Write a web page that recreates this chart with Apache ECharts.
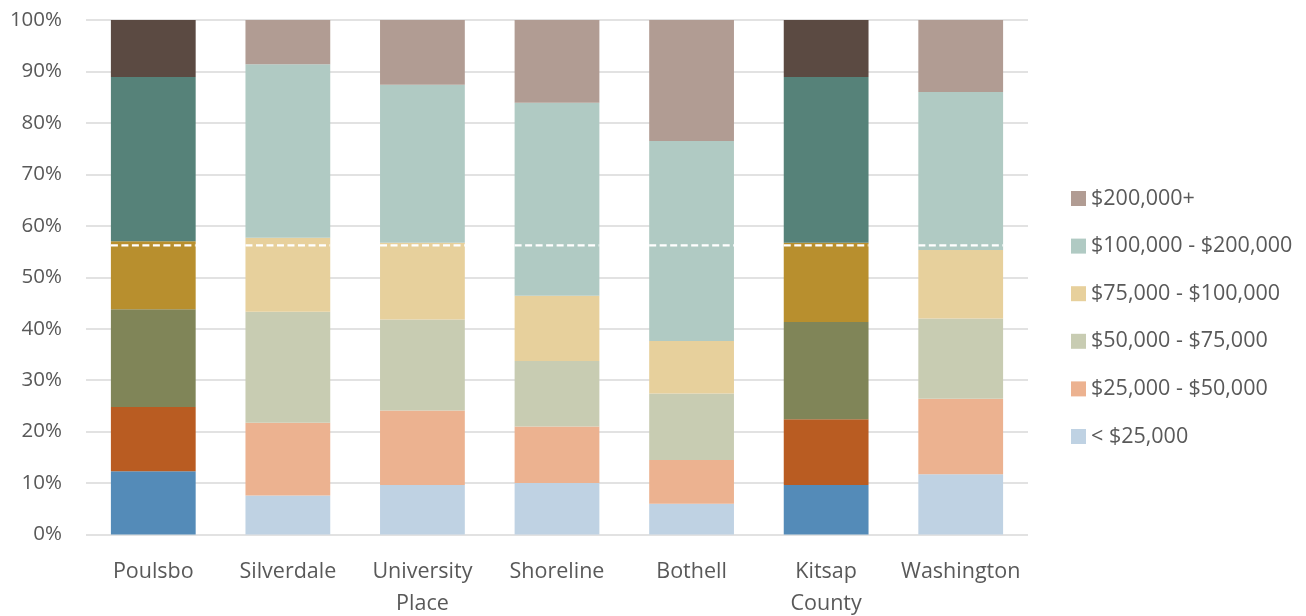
<!DOCTYPE html>
<html>
<head>
<meta charset="utf-8">
<script src="https://cdn.jsdelivr.net/npm/echarts@6/dist/echarts.min.js"></script>
<style>
  html, body { margin: 0; padding: 0; background: #ffffff; }
  #chart { width: 1306px; height: 616px; }
</style>
</head>
<body>
<div id="chart"></div>
<script>
// Household income distribution by place (share of households, %)
const categories = ['Poulsbo', 'Silverdale', 'University\nPlace', 'Shoreline', 'Bothell', 'Kitsap\nCounty', 'Washington'];

const seriesNames = ['< $25,000', '$25,000 - $50,000', '$50,000 - $75,000', '$75,000 - $100,000', '$100,000 - $200,000', '$200,000+'];

const under25k      = [12.3,  7.6,  9.6, 10.0,  6.0,  9.6, 11.7];
const from25to50k   = [12.5, 14.1, 14.5, 11.0,  8.5, 12.8, 14.7];
const from50to75k   = [19.0, 21.6, 17.7, 12.7, 12.9, 18.9, 15.6];
const from75to100k  = [13.2, 14.4, 14.9, 12.7, 10.2, 15.4, 13.3];
const from100to200k = [31.9, 33.7, 30.7, 37.5, 38.9, 32.2, 30.7];
const over200k      = [11.1,  8.6, 12.6, 16.1, 23.5, 11.1, 14.0];

// Reference level drawn as a dashed white line across each bar
const referenceLevel = [56.2, 56.2, 56.2, 56.2, 56.2, 56.2, 56.2];

const yTicks = [0, 10, 20, 30, 40, 50, 60, 70, 80, 90, 100];

// Bars shown in the deeper palette
const highlighted = ['Poulsbo', 'Kitsap\nCounty'];

const lightColors = ['#BFD2E3', '#ECB290', '#C8CCB2', '#E7D09C', '#B0CAC3', '#B19C93'];
const darkColors  = ['#548BB8', '#B95C22', '#808558', '#B88F2E', '#568279', '#5B4A42'];

const seriesValues = [under25k, from25to50k, from50to75k, from75to100k, from100to200k, over200k];

const BAR_RATIO = 0.63;
const FONT = '"Open Sans", "Noto Sans", sans-serif';
const TEXT_COLOR = '#595959';

const barSeries = seriesNames.map((name, s) => ({
  name: name,
  type: 'bar',
  stack: 'total',
  barWidth: (BAR_RATIO * 100) + '%',
  itemStyle: { color: lightColors[s] },
  emphasis: { disabled: true },
  data: seriesValues[s].map((v, i) => ({
    value: v,
    itemStyle: { color: highlighted.includes(categories[i]) ? darkColors[s] : lightColors[s] }
  }))
}));

const refSeries = {
  name: 'reference',
  type: 'custom',
  z: 10,
  silent: true,
  encode: { x: 0, y: 1 },
  data: referenceLevel.map((v, i) => [i, v]),
  renderItem: function (params, api) {
    const p = api.coord([api.value(0), api.value(1)]);
    const half = api.size([1, 0])[0] * BAR_RATIO / 2;
    return {
      type: 'line',
      shape: { x1: p[0] - half, y1: p[1], x2: p[0] + half, y2: p[1] },
      style: { stroke: '#ffffff', lineWidth: 2.3, lineDash: [7, 3.5] }
    };
  }
};

const chart = echarts.init(document.getElementById('chart'), null, { renderer: 'canvas' });
chart.setOption({
  animation: false,
  backgroundColor: '#ffffff',
  textStyle: { fontFamily: FONT },
  grid: { left: 86, right: 278, top: 20, bottom: 81.5, containLabel: false, outerBoundsMode: 'none' },
  legend: {
    orient: 'vertical',
    left: 1066,
    top: 182,
    data: seriesNames.slice().reverse(),
    icon: 'rect',
    itemWidth: 15,
    itemHeight: 15,
    itemGap: 24.6,
    selectedMode: false,
    textStyle: { color: TEXT_COLOR, fontSize: 21.5, fontFamily: FONT, lineHeight: 23 }
  },
  xAxis: {
    type: 'category',
    data: categories,
    axisLine: { show: false },
    axisTick: { show: false },
    axisLabel: {
      color: TEXT_COLOR, fontSize: 21.5, fontFamily: FONT,
      lineHeight: 32, margin: 21, interval: 0
    }
  },
  yAxis: {
    type: 'value',
    min: yTicks[0],
    max: yTicks[yTicks.length - 1],
    interval: yTicks[1] - yTicks[0],
    axisLine: { show: false },
    axisTick: { show: false },
    splitLine: { lineStyle: { color: '#D9D9D9', width: 1.5 } },
    axisLabel: {
      color: TEXT_COLOR, fontSize: 20.5, fontFamily: FONT, margin: 24,
      formatter: '{value}%'
    }
  },
  series: barSeries.concat([refSeries])
});
</script>
</body>
</html>
